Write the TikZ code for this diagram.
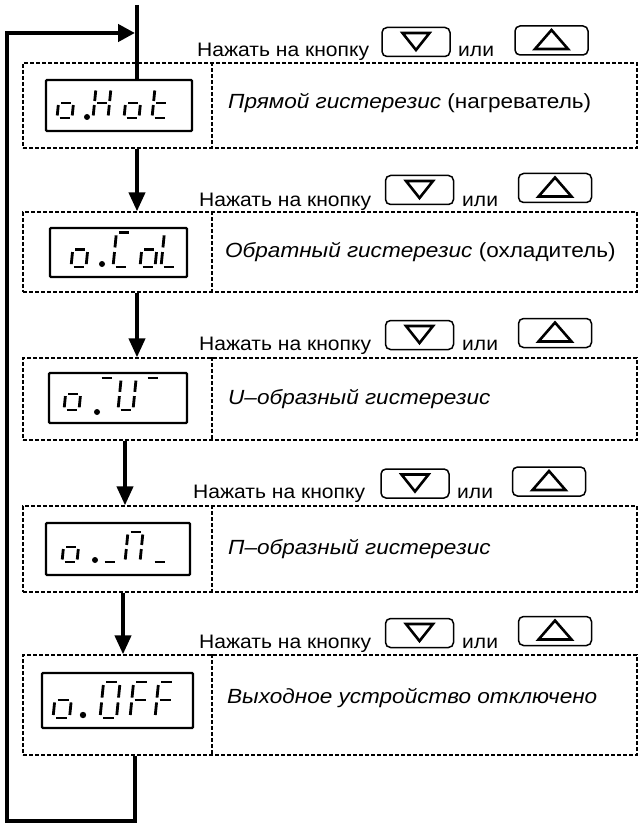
\documentclass[tikz,border=0pt]{standalone}
\usepackage{fontspec}
\setmainfont{Liberation Sans}
\newfontfamily\hdfont[FakeStretch=1.08]{Liberation Sans}
\newfontfamily\dsfont[FakeStretch=1.10]{Liberation Sans}
\usetikzlibrary{arrows.meta}
\newcommand\sgA{\draw[segl] (2.5,-30) -- (12.5,-30);}
\newcommand\sgB{\draw[segl] (15,-27.5) -- (15,-17);}
\newcommand\sgC{\draw[segl] (15,-13) -- (15,-2.5);}
\newcommand\sgD{\draw[segl] (2.5,0) -- (12.5,0);}
\newcommand\sgE{\draw[segl] (0,-13) -- (0,-2.5);}
\newcommand\sgF{\draw[segl] (0,-27.5) -- (0,-17);}
\newcommand\sgG{\draw[segl] (2.5,-15) -- (12.5,-15);}
\newcommand\dg[4]{\begin{scope}[shift={(#1,#2)},xslant=0.1,#3]#4\end{scope}}
\newcommand\pressrow[8]{%
  \node[lbl] (pt#1) at (#2,#3) {Нажать на кнопку};
  \node[btn] (bd#1) at (#4,#5) {};
  \draw[tri] ([shift={(-13.5,-9)}]bd#1.center) -- ([shift={(13.5,-9)}]bd#1.center) -- ([shift={(0,8)}]bd#1.center) -- cycle;
  \node[lbl] (or#1) at (#6,#3) {или};
  \node[btn, minimum width=73pt] (bu#1) at (#7,#8) {};
  \draw[tri] ([shift={(-16.5,8.5)}]bu#1.center) -- ([shift={(16.5,8.5)}]bu#1.center) -- ([shift={(0,-10.5)}]bu#1.center) -- cycle;
}
\begin{document}
\begin{tikzpicture}[x=1pt,y=-1pt,
  blockbox/.style={draw, dash pattern=on 4pt off 2pt, line width=1.3pt, inner sep=0pt, minimum width=614pt},
  divline/.style={dash pattern=on 4pt off 2pt, line width=1.3pt},
  disp/.style={draw, line width=2.4pt, inner sep=0pt, rounded corners=1pt},
  segl/.style={line width=2.8pt},
  btn/.style={draw, line width=1.5pt, rounded corners=5pt, minimum width=68pt, minimum height=29pt, inner sep=0pt},
  tri/.style={line width=2.6pt, line join=miter},
  lbl/.style={font=\hdfont\fontsize{19.5}{23}\selectfont, inner sep=0pt, anchor=base west},
  dsc/.style={font=\dsfont\fontsize{20.5}{24}\selectfont, inner sep=0pt, anchor=base west},
  flow/.style={line width=4pt},
  head/.style={-{Triangle[length=19pt,width=16pt]}},
  ]
\useasboundingbox (0,0) rectangle (641,826);

% blocks
\node[blockbox, minimum height=85pt] (b1) at (330,105.5) {};
\node[blockbox, minimum height=80pt] (b2) at (330,252) {};
\node[blockbox, minimum height=82pt] (b3) at (330,399) {};
\node[blockbox, minimum height=86pt] (b4) at (330,549) {};
\node[blockbox, minimum height=100pt] (b5) at (330,705) {};
\coordinate (dv) at (212,0);
\foreach \b in {b1,b2,b3,b4,b5}{\draw[divline] (\b.north -| dv) -- (\b.south -| dv);}

% displays
\node[disp, minimum width=146pt, minimum height=51pt] (d1) at (119,105.5) {};
\node[disp, minimum width=137pt, minimum height=49pt] (d2) at (118.5,252.5) {};
\node[disp, minimum width=138pt, minimum height=50pt] (d3) at (118,398) {};
\node[disp, minimum width=144pt, minimum height=52pt] (d4) at (118,549) {};
\node[disp, minimum width=151pt, minimum height=55pt] (d5) at (117.5,700.5) {};

% display 1: o.Hot
\dg{57}{118}{}{\sgC\sgD\sgE\sgG}
\fill (87,117) circle (3);
\dg{93}{118}{}{\sgB\sgC\sgE\sgF\sgG}
\dg{124}{118}{}{\sgC\sgD\sgE\sgG}
\dg{152}{118}{}{\sgD\sgE\sgF\sgG}
% display 2: o.CoL
\dg{71}{267}{yscale=1.15}{\sgC\sgD\sgE\sgG}
\fill (102,264) circle (3);
\dg{113}{267}{yscale=1.15}{\sgA\sgD\sgE\sgF}
\dg{140}{267}{yscale=1.15}{\sgC\sgD\sgE\sgG}
\dg{161}{267}{yscale=1.15}{\sgD\sgE\sgF}
% display 3: o.-U-
\dg{64}{410}{yscale=1.07}{\sgC\sgD\sgE\sgG}
\fill (97,412) circle (3);
\dg{96}{410}{yscale=1.07}{\sgA}
\dg{118}{410}{yscale=1.07}{\sgB\sgC\sgD\sgE\sgF}
\dg{142}{410}{yscale=1.07}{\sgA}
% display 4: o._П_
\dg{62}{562}{}{\sgC\sgD\sgE\sgG}
\fill (95,560) circle (3);
\dg{102}{562}{}{\sgD}
\dg{125}{562}{}{\sgA\sgB\sgC\sgE\sgF}
\dg{152}{562}{}{\sgD}
% display 5: o.OFF
\dg{53}{718}{xscale=1.1,yscale=1.2}{\sgC\sgD\sgE\sgG}
\fill (83,715) circle (3.2);
\dg{100}{718}{xscale=1.1,yscale=1.2}{\sgA\sgB\sgC\sgD\sgE\sgF}
\dg{130}{718}{xscale=1.1,yscale=1.2}{\sgA\sgE\sgF\sgG}
\dg{155}{718}{xscale=1.1,yscale=1.2}{\sgA\sgE\sgF\sgG}

% press rows
\pressrow{1}{197}{57}{416}{42}{458}{551.5}{40.5}
\pressrow{2}{199}{207}{419.5}{190}{462}{555}{188}
\pressrow{3}{199}{350}{419.5}{335}{462}{555}{333}
\pressrow{4}{193}{498}{415}{483.5}{457}{549}{481.5}
\pressrow{5}{199}{648}{419.5}{633}{462}{555}{631}

% descriptions
\node[dsc] (t1) at (228,109) {{\itshape Прямой гистерезис} (нагреватель)};
\node[dsc] (t2) at (225,257) {{\itshape Обратный гистерезис} (охладитель)};
\node[dsc] (t3) at (228,404) {\itshape U–образный гистерезис};
\node[dsc] (t4) at (228,554) {\itshape П–образный гистерезис};
\node[dsc] (t5) at (227,703) {\itshape Выходное устройство отключено};

% connectors
\coordinate (tp) at (137,5);
\coordinate (x1) at (137,0);
\coordinate (x2) at (125,0);
\coordinate (x3) at (123,0);
\draw[flow] (tp) -- (d1.north -| tp);
\draw[flow,head] (b1.south -| x1) -- (b2.north -| x1);
\draw[flow,head] (b2.south -| x1) -- (b3.north -| x1);
\draw[flow,head] (b3.south -| x2) -- (b4.north -| x2);
\draw[flow,head] (b4.south -| x3) -- (b5.north -| x3);
\coordinate (lb) at (135,821);
\coordinate (ll) at (7,821);
\coordinate (lt) at (7,33);
\coordinate (la) at (135,33);
\draw[line width=4.5pt, -{Triangle[length=17pt,width=17pt]}] (b5.south -| lb) -- (lb) -- (ll) -- (lt) -- (la);
\end{tikzpicture}
\end{document}
